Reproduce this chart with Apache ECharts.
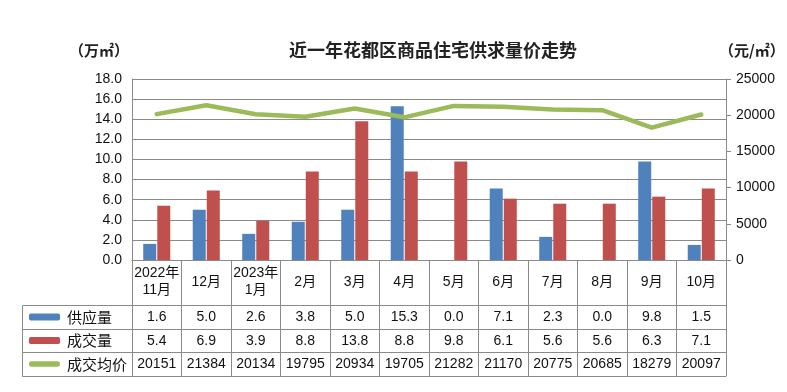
<!DOCTYPE html>
<html>
<head>
<meta charset="utf-8">
<script src="https://cdn.jsdelivr.net/npm/echarts@6/dist/echarts.min.js"></script>
<style>
html,body{margin:0;padding:0;background:#fff;}
#chart{width:787px;height:392px;}
</style>
</head>
<body>
<div id="chart"></div>
<script>
// ---- data ----
var categories = ['2022年\n11月','12月','2023年\n1月','2月','3月','4月','5月','6月','7月','8月','9月','10月'];
var supply = [1.6, 5.0, 2.6, 3.8, 5.0, 15.3, 0.0, 7.1, 2.3, 0.0, 9.8, 1.5];
var deals = [5.4, 6.9, 3.9, 8.8, 13.8, 8.8, 9.8, 6.1, 5.6, 5.6, 6.3, 7.1];
var avgPrice = [20151, 21384, 20134, 19795, 20934, 19705, 21282, 21170, 20775, 20685, 18279, 20097];
var seriesNames = ['供应量', '成交量', '成交均价'];
var titleText = '近一年花都区商品住宅供求量价走势';
var leftUnit = '（万㎡）';
var rightUnit = '（元/㎡）';

var FONT = '"Liberation Sans", "Noto Sans CJK SC", sans-serif';
var CJK = '"Noto Sans CJK SC", sans-serif';
var GRID_COLOR = '#8a8a8a';
var TEXT = '#111';

var chart = echarts.init(document.getElementById('chart'), null, {renderer: 'canvas'});

function tableAxis(offset, tickLen, values, fmt) {
  return {
    type: 'category',
    gridIndex: 0,
    position: 'bottom',
    offset: offset,
    data: categories,
    boundaryGap: true,
    axisLine: {show: true, onZero: false, lineStyle: {color: GRID_COLOR, width: 1}},
    axisTick: {show: values !== null, interval: 0, length: tickLen, lineStyle: {color: GRID_COLOR}},
    axisLabel: {
      show: values !== null,
      interval: 0,
      margin: 12,
      verticalAlign: 'middle',
      fontSize: 14,
      fontFamily: FONT,
      color: TEXT,
      formatter: function (v, i) { return values ? fmt(values[i]) : ''; }
    },
    splitLine: {show: false}
  };
}

var option = {
  backgroundColor: '#fff',
  animation: false,
  title: [
    {text: titleText, left: 428, top: 36, textAlign: 'center',
     textStyle: {fontFamily: CJK, fontSize: 18, fontWeight: 'bold', color: '#222'}},
    {text: leftUnit, left: 64, top: 38,
     textStyle: {fontFamily: CJK, fontSize: 15, fontWeight: 'bold', color: '#222'}},
    {text: rightUnit, left: 714, top: 38,
     textStyle: {fontFamily: CJK, fontSize: 15, fontWeight: 'bold', color: '#222'}}
  ],
  legend: {
    orient: 'vertical',
    left: 24,
    top: 304,
    itemWidth: 31,
    itemHeight: 7,
    itemGap: 7.5,
    data: [
      {name: seriesNames[0]},
      {name: seriesNames[1]},
      {name: seriesNames[2], icon: 'path://M3,0 L32,0 A3,3 0 0 1 32,6 L3,6 A3,3 0 0 1 3,0 Z'}
    ],
    textStyle: {fontFamily: CJK, fontSize: 15, color: TEXT, lineHeight: 16, padding: [0, 0, 0, 2]},
    selectedMode: false
  },
  grid: {left: 132, right: 61, top: 79, bottom: 132, containLabel: false},
  xAxis: [
    {
      type: 'category',
      data: categories,
      boundaryGap: true,
      position: 'bottom',
      axisLine: {show: true, onZero: false, lineStyle: {color: GRID_COLOR, width: 1}},
      axisTick: {show: true, interval: 0, length: 45, lineStyle: {color: GRID_COLOR}},
      axisLabel: {interval: 0, margin: 22, verticalAlign: 'middle', fontSize: 14, lineHeight: 17,
                  fontFamily: FONT, color: TEXT},
      splitLine: {show: false}
    },
    tableAxis(45, 24, supply, function (v) { return v.toFixed(1); }),
    tableAxis(69, 23, deals, function (v) { return v.toFixed(1); }),
    tableAxis(92, 24, avgPrice, function (v) { return String(v); }),
    tableAxis(116, 0, null, null)
  ],
  yAxis: [
    {
      type: 'value', min: 0, max: 18, interval: 2, position: 'left',
      axisLine: {show: true, lineStyle: {color: GRID_COLOR}},
      axisTick: {show: false},
      axisLabel: {margin: 10, fontSize: 14, fontFamily: FONT, color: TEXT,
                  formatter: function (v) { return v.toFixed(1); }},
      splitLine: {show: true, lineStyle: {color: GRID_COLOR, width: 1}}
    },
    {
      type: 'value', min: 0, max: 25000, interval: 5000, position: 'right',
      axisLine: {show: true, lineStyle: {color: GRID_COLOR}},
      axisTick: {show: true, length: 5, inside: false, lineStyle: {color: GRID_COLOR}},
      axisLabel: {margin: 10, fontSize: 14, fontFamily: FONT, color: TEXT,
                  formatter: function (v) { return String(v); }},
      splitLine: {show: false}
    }
  ],
  series: [
    {
      name: seriesNames[0], type: 'bar', xAxisIndex: 0, yAxisIndex: 0,
      data: supply, barWidth: 13, barGap: '8%',
      itemStyle: {color: '#4F81BD'}
    },
    {
      name: seriesNames[1], type: 'bar', xAxisIndex: 0, yAxisIndex: 0,
      data: deals, barWidth: 13, barGap: '8%',
      itemStyle: {color: '#C0504D'}
    },
    {
      name: seriesNames[2], type: 'line', xAxisIndex: 0, yAxisIndex: 1,
      data: avgPrice, symbol: 'none',
      lineStyle: {color: '#9BBB59', width: 4.5, cap: 'round', join: 'round'},
      itemStyle: {color: '#9BBB59'}
    }
  ],
  graphic: [
    {type: 'line', shape: {x1: 22.5, y1: 305.5, x2: 132, y2: 305.5}, style: {stroke: GRID_COLOR, lineWidth: 1}, silent: true},
    {type: 'line', shape: {x1: 22.5, y1: 329.5, x2: 132, y2: 329.5}, style: {stroke: GRID_COLOR, lineWidth: 1}, silent: true},
    {type: 'line', shape: {x1: 22.5, y1: 352.5, x2: 132, y2: 352.5}, style: {stroke: GRID_COLOR, lineWidth: 1}, silent: true},
    {type: 'line', shape: {x1: 22.5, y1: 376.5, x2: 132, y2: 376.5}, style: {stroke: GRID_COLOR, lineWidth: 1}, silent: true},
    {type: 'line', shape: {x1: 22.5, y1: 305.5, x2: 22.5, y2: 376.5}, style: {stroke: GRID_COLOR, lineWidth: 1}, silent: true}
  ]
};
chart.setOption(option);
</script>
</body>
</html>
